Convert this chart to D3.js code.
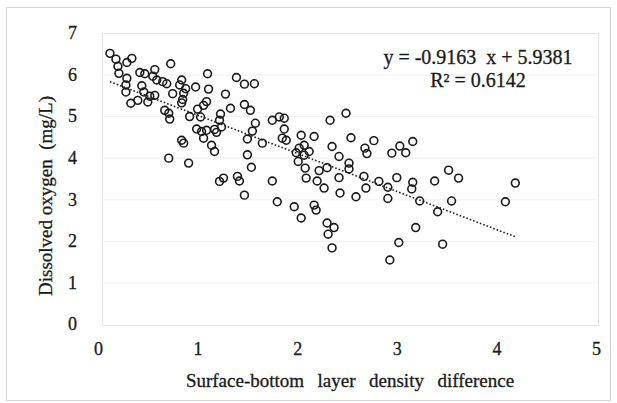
<!DOCTYPE html>
<html>
<head>
<meta charset="utf-8">
<script src="https://cdn.jsdelivr.net/npm/d3@7"></script>
<style>
  body { margin: 0; background: #fff; }
</style>
</head>
<body>
<div id="chart"></div>
<script>
// density difference (x) and dissolved oxygen (y)
const xVals = [
  0.12, 0.18, 0.20, 0.21, 0.29, 0.34, 0.29, 0.28, 0.28, 0.33, 0.40, 0.50, 0.42, 0.47, 0.57,
  0.55, 0.59, 0.65, 0.69, 0.73, 0.44, 0.46, 0.52, 0.57, 0.75, 0.84, 0.82, 0.88, 0.86, 0.85,
  0.84, 0.98, 0.67, 0.71, 0.72, 0.92, 1.00, 1.03, 0.99, 1.04, 0.84, 0.86, 0.71, 0.91,
  1.10, 1.11, 1.28, 1.39, 1.47, 1.57, 1.33, 1.47, 1.53, 1.09, 1.06, 1.09, 1.06, 1.23, 1.22,
  1.24, 1.17, 1.19, 1.14, 1.17, 1.58, 1.55, 1.50, 1.65, 1.50, 1.54, 1.22, 1.26, 1.40, 1.42, 1.47,
  1.75, 1.82, 1.87, 1.87, 1.85, 1.89, 2.04, 2.02, 2.07, 1.99, 2.07, 2.17, 2.12, 2.01, 2.08,
  2.09, 1.75, 1.80, 1.97, 2.04, 2.17, 2.19, 2.22, 2.30, 2.20, 2.27, 2.30, 2.37, 2.31, 2.35,
  2.49, 2.33, 2.35, 2.54, 2.77, 2.68, 2.70, 2.42, 2.52, 2.52, 2.95, 3.03, 3.09, 3.16, 2.42,
  2.43, 2.67, 2.69, 2.59, 2.82, 2.91, 2.91, 3.00, 3.16, 3.15, 3.02, 2.93, 3.23, 3.19,
  3.38, 3.52, 3.62, 3.41, 3.55, 3.46, 4.19, 4.09
];
const yVals = [
  6.51, 6.37, 6.20, 6.03, 6.29, 6.39, 5.91, 5.75, 5.58, 5.31, 5.38, 5.34, 6.05, 6.02, 6.12,
  5.96, 5.87, 5.83, 5.78, 6.26, 5.73, 5.58, 5.48, 5.50, 5.54, 5.87, 5.75, 5.66, 5.55, 5.40,
  5.32, 5.70, 5.14, 5.07, 4.93, 4.99, 5.17, 4.98, 4.69, 4.63, 4.42, 4.35, 3.99, 3.87,
  6.02, 5.65, 5.53, 5.93, 5.77, 5.78, 5.19, 5.28, 5.14, 5.35, 5.26, 4.66, 4.47, 5.05, 4.90,
  4.74, 4.68, 4.61, 4.30, 4.15, 4.83, 4.64, 4.45, 4.35, 4.07, 3.77, 3.43, 3.51, 3.55, 3.44, 3.10,
  4.90, 4.98, 4.95, 4.69, 4.47, 4.42, 4.54, 4.23, 4.30, 4.12, 4.06, 4.51, 4.15, 3.91, 3.75,
  3.51, 3.44, 2.94, 2.82, 2.55, 2.86, 2.74, 3.69, 3.76, 3.44, 3.27, 2.43, 2.32, 2.16, 1.83,
  5.07, 4.90, 4.27, 4.48, 4.41, 4.23, 4.10, 4.03, 3.87, 3.73, 4.11, 4.28, 4.12, 4.39, 3.52,
  3.15, 3.55, 3.27, 3.06, 3.43, 3.29, 3.02, 3.52, 3.41, 3.25, 1.96, 1.54, 2.96, 2.32,
  3.44, 3.70, 3.51, 2.70, 2.96, 1.92, 3.39, 2.94
];

const xTicks = [0, 1, 2, 3, 4, 5];
const yTicks = [0, 1, 2, 3, 4, 5, 6, 7];

const slope = -0.9163;
const intercept = 5.9381;
const eqLabel = "y = -0.9163  x + 5.9381";
const r2Label = "R\u00B2 = 0.6142";

const xTitle = "Surface-bottom  layer  density  difference";
const yTitle = "Dissolved oxygen  (mg/L)";

const width = 617, height = 403;
const serif = "Liberation Serif";
const ink = "#1a1a1a";

const svg = d3.select("#chart").append("svg")
  .attr("width", width)
  .attr("height", height);

// outer frame
svg.append("rect")
  .attr("x", 6.5).attr("y", 7.5)
  .attr("width", 604).attr("height", 393)
  .attr("fill", "#fff")
  .attr("stroke", "#d4d4d4");

const xScale = d3.scaleLinear().domain([0, 5]).range([98, 596]);
const yScale = d3.scaleLinear().domain([0, 7]).range([324, 33]);

// faint gridlines
svg.append("g")
  .selectAll("line")
  .data(yTicks.slice(1))
  .enter().append("line")
  .attr("x1", xScale(0) + 4).attr("x2", xScale(5))
  .attr("y1", d => yScale(d) + 0.5).attr("y2", d => yScale(d) + 0.5)
  .attr("stroke", "#f0f0f0");

// faint plot area box
svg.append("rect")
  .attr("x", xScale(0) + 4.5).attr("y", yScale(7) + 0.5)
  .attr("width", xScale(5) - xScale(0) - 2)
  .attr("height", yScale(0) - yScale(7) + 1)
  .attr("fill", "none")
  .attr("stroke", "#e6e6e6");

// Y axis labels
const yAxis = svg.append("g")
  .attr("transform", `translate(${xScale(0)}, 0)`)
  .call(d3.axisLeft(yScale).tickValues(yTicks).tickSize(0).tickPadding(21).tickFormat(d3.format("d")))
  .attr("font-family", serif)
  .attr("font-size", 18);
yAxis.select(".domain").remove();
yAxis.selectAll("text").attr("fill", ink).attr("stroke", ink).attr("stroke-width", 0.3);

// X axis labels
const xAxis = svg.append("g")
  .attr("transform", `translate(0, ${yScale(0)})`)
  .call(d3.axisBottom(xScale).tickValues(xTicks).tickSize(0).tickPadding(18).tickFormat(d3.format("d")))
  .attr("font-family", serif)
  .attr("font-size", 18);
xAxis.select(".domain").remove();
xAxis.selectAll("text").attr("fill", ink).attr("stroke", ink).attr("stroke-width", 0.3);

// trendline across the data range
const xMin = d3.min(xVals), xMax = d3.max(xVals);
svg.append("line")
  .attr("x1", xScale(xMin)).attr("y1", yScale(slope * xMin + intercept))
  .attr("x2", xScale(xMax)).attr("y2", yScale(slope * xMax + intercept))
  .attr("stroke", "#222")
  .attr("stroke-width", 1.6)
  .attr("stroke-dasharray", "1.6,2");

// data points
svg.append("g")
  .selectAll("circle")
  .data(d3.zip(xVals, yVals))
  .enter().append("circle")
  .attr("cx", d => xScale(d[0]))
  .attr("cy", d => yScale(d[1]))
  .attr("r", 3.9)
  .attr("fill", "none")
  .attr("stroke", ink)
  .attr("stroke-width", 1.6);

// text helper
function label(x, y, str, size) {
  return svg.append("text")
    .attr("x", x).attr("y", y)
    .attr("text-anchor", "middle")
    .attr("font-family", serif)
    .attr("font-size", size)
    .attr("fill", ink)
    .attr("stroke", ink)
    .attr("stroke-width", 0.3)
    .style("white-space", "pre")
    .text(str);
}

// equation
label(478, 64, eqLabel, 20);
label(478, 87, r2Label, 20);

// axis titles
label(350, 387, xTitle, 19).attr("word-spacing", 2);
label(0, 0, yTitle, 19).attr("x", null).attr("y", null)
  .attr("transform", "translate(52, 196) rotate(-90)");
</script>
</body>
</html>
